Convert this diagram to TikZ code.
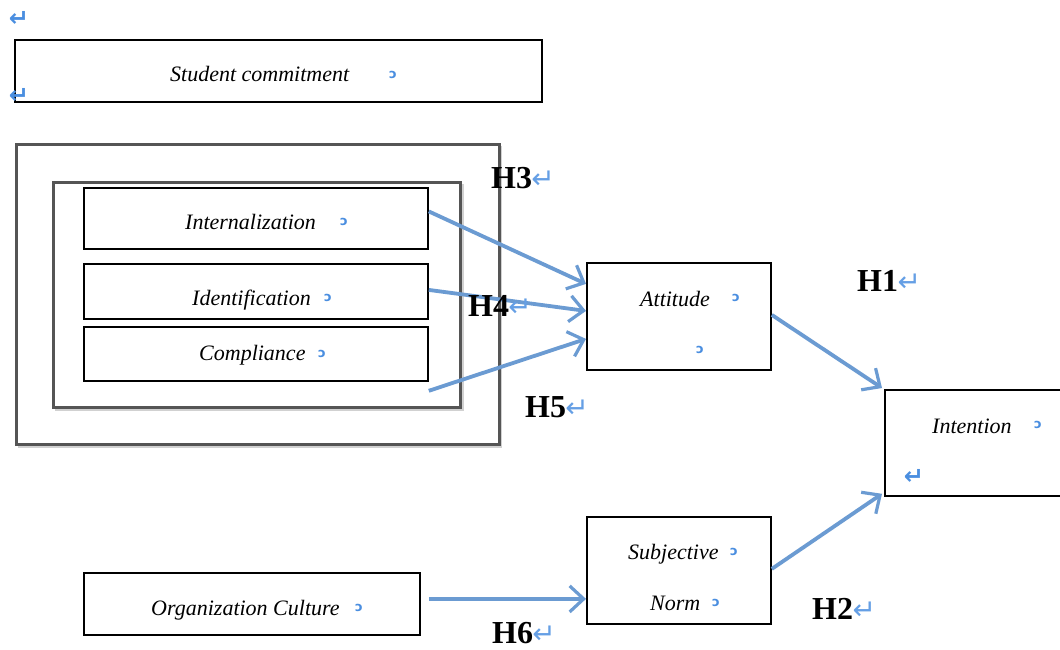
\documentclass[tikz,border=0pt]{standalone}
\usepackage{fontspec}
\setmainfont{Liberation Serif}
\newfontfamily\symfont{DejaVu Sans}
\usetikzlibrary{arrows.meta}
\definecolor{arrblue}{HTML}{6B9BD2}
\definecolor{markblue}{HTML}{4A8EE0}
\definecolor{framegray}{HTML}{555555}
\begin{document}
\begin{tikzpicture}[x=1pt,y=-1pt,
  box/.style={draw=black, line width=1.8pt, inner sep=0pt, anchor=north west},
  frame/.style={draw=framegray, line width=2.8pt, inner sep=0pt, anchor=north west},
  shadow/.style={draw=black!18, line width=3pt},
  lab/.style={font=\fontsize{22}{24}\selectfont\itshape, inner sep=0pt, anchor=base west},
  hlab/.style={font=\fontsize{32}{36}\selectfont\bfseries, inner sep=0pt, anchor=base west},
  amark/.style={font=\symfont\bfseries\fontsize{13}{13}\selectfont, text=markblue, inner sep=0pt},
  rmark/.style={font=\symfont\bfseries\fontsize{24}{24}\selectfont, text=markblue, inner sep=0pt},
  hmark/.style={font=\symfont\fontsize{28}{28}\selectfont, text=markblue!85, inner sep=0pt, anchor=base west},
  arr/.style={draw=arrblue, line width=3.8pt, -{Straight Barb[length=14pt,width=26pt,line width=3.2pt]}}
]
\useasboundingbox (0,0) rectangle (1060,649);
\fill[white] (0,0) rectangle (1060,649);

% frames (with faint shadow)
\draw[shadow] (18,446) -- (500,446) -- (500,146);
\draw[shadow] (55,409) -- (462,409) -- (462,184);
\node[frame, minimum width=483pt, minimum height=300pt] (outer) at (15,143) {};
\node[frame, minimum width=407pt, minimum height=225pt] (inner) at (52,181) {};

% boxes
\node[box, minimum width=527pt, minimum height=62pt] (sc) at (14,39) {};
\node[box, minimum width=344pt, minimum height=61pt] (intz) at (83,187) {};
\node[box, minimum width=344pt, minimum height=55pt] (idf) at (83,263) {};
\node[box, minimum width=344pt, minimum height=54pt] (comp) at (83,326) {};
\node[box, minimum width=184pt, minimum height=107pt] (att) at (586,262) {};
\node[box, minimum width=178pt, minimum height=106pt] (intn) at (884,389) {};
\node[box, minimum width=184pt, minimum height=107pt] (sn) at (586,516) {};
\node[box, minimum width=336pt, minimum height=62pt] (oc) at (83,572) {};

% labels
\node[lab] (tsc) at (170,81) {Student commitment};
\node[lab] (tintz) at (185,229) {Internalization};
\node[lab] (tidf) at (192,305) {Identification};
\node[lab] (tcomp) at (199,360) {Compliance};
\node[lab] (tatt) at (640,306) {Attitude};
\node[lab] (tintn) at (932,433) {Intention};
\node[lab] (tsub) at (628,559) {Subjective};
\node[lab] (tnorm) at (650,610) {Norm};
\node[lab] (toc) at (151,615) {Organization Culture};

% anchor marks
\node[amark] (m1) at (393,75) {ɔ};
\node[amark] (m2) at (344,222) {ɔ};
\node[amark] (m3) at (328,298) {ɔ};
\node[amark] (m4) at (322,354) {ɔ};
\node[amark] (m5) at (736,298) {ɔ};
\node[amark] (m6) at (700,350) {ɔ};
\node[amark] (m7) at (1038,425) {ɔ};
\node[amark] (m8) at (734,552) {ɔ};
\node[amark] (m9) at (716,603) {ɔ};
\node[amark] (m10) at (359,608) {ɔ};

% return marks
\node[rmark] (r1) at (19,19) {↵};
\node[rmark] (r2) at (19,96) {↵};
\node[rmark] (r3) at (914,477) {↵};

% hypothesis labels
\node[hlab] (h3) at (491,188) {H3};
\node[hmark] (h3m) at ([xshift=-1pt]h3.base east) {↵};
\node[hlab] (h1) at (857,291) {H1};
\node[hmark] (h1m) at ([xshift=-1pt]h1.base east) {↵};

% arrows
\draw[arr] ([yshift=7pt]intz.east) -- ([yshift=32.5pt]att.west);
\draw[arr] ([yshift=1.5pt]idf.east) -- ([yshift=5.5pt]att.west);
\draw[arr] ([yshift=-9pt]comp.south east) -- ([yshift=-22.5pt]att.west);
\draw[arr] ([yshift=1.5pt]att.east) -- ([shift={(-2pt,1pt)}]intn.north west);
\draw[arr] ([yshift=1.5pt]sn.east) -- ([shift={(-2pt,3pt)}]intn.south west);
\draw[arr] ([shift={(8pt,5pt)}]oc.east) -- ([yshift=-28.5pt]sn.west);

\node[hlab] (h4) at (468,316) {H4};
\node[hmark] (h4m) at ([xshift=-1pt]h4.base east) {↵};
\node[hlab] (h5) at (525,417) {H5};
\node[hmark] (h5m) at ([xshift=-1pt]h5.base east) {↵};
\node[hlab] (h2) at (812,619) {H2};
\node[hmark] (h2m) at ([xshift=-1pt]h2.base east) {↵};
\node[hlab] (h6) at (492,643) {H6};
\node[hmark] (h6m) at ([xshift=-1pt]h6.base east) {↵};
\end{tikzpicture}
\end{document}
